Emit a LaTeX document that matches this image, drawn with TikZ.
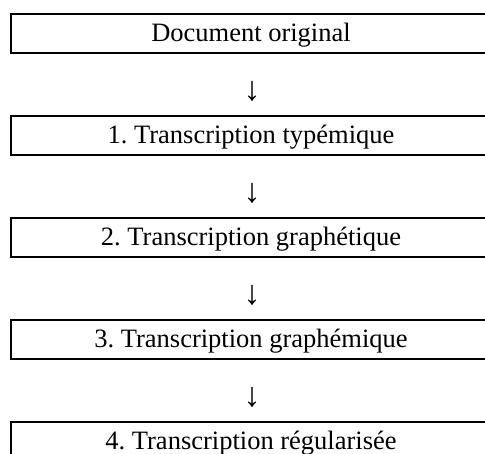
\documentclass[tikz,border=0pt]{standalone}
\usepackage{fontspec}
\setmainfont{Liberation Serif}
\frenchspacing
\tikzset{
  etape/.style={draw, line width=2pt, minimum width=480pt, minimum height=39pt, inner sep=0pt,
    text height=21pt, text depth=5pt, font=\fontsize{26.5}{30}\selectfont},
  fleche/.style={inner sep=0pt, font=\fontsize{34}{38}\selectfont}
}
\begin{document}
\begin{tikzpicture}[x=1pt, y=-1pt]
  \def\pas{102}
  \def\milieu{251}
  \useasboundingbox (0,0) rectangle (485,454);
  \clip (0,0) rectangle (485,454);

  \node[etape] (doc) at (\milieu, 33.5) {Document original};
  \node[etape] (typ) at (\milieu, 33.5 + \pas) {1. Transcription typémique};
  \node[etape] (graphet) at (\milieu, 33.5 + 2*\pas) {2. Transcription graphétique};
  \node[etape] (graphem) at (\milieu, 33.5 + 3*\pas) {3. Transcription graphémique};
  \node[etape] (regul) at (\milieu, 33.5 + 4*\pas) {4. Transcription régularisée};

  \node[fleche] (f1) at (252, 91) {↓};
  \node[fleche] (f2) at (252, 91 + \pas) {↓};
  \node[fleche] (f3) at (252, 91 + 2*\pas) {↓};
  \node[fleche] (f4) at (252, 91 + 3*\pas) {↓};
\end{tikzpicture}
\end{document}
